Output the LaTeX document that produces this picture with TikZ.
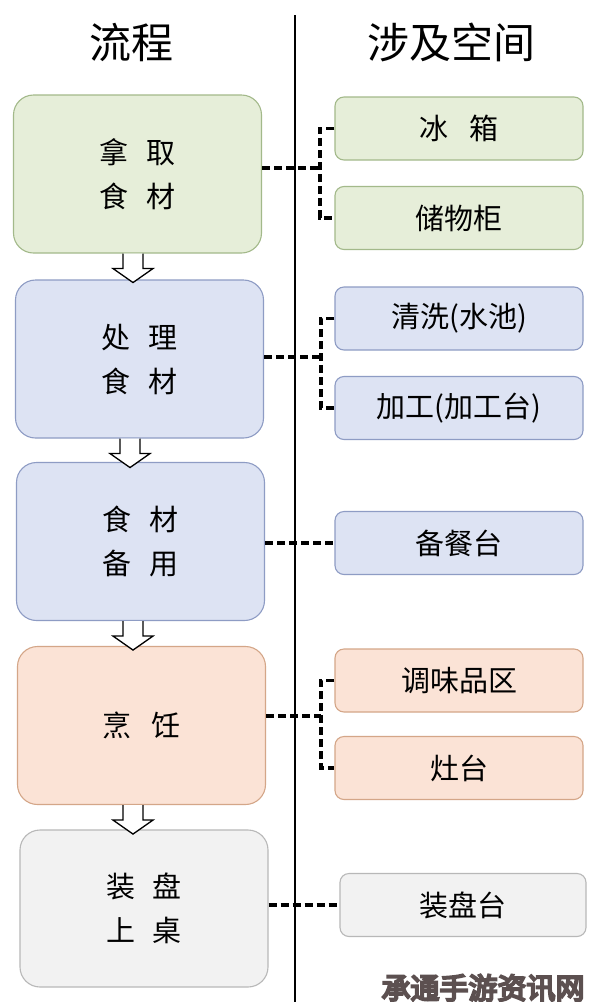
\documentclass[tikz,border=0pt]{standalone}
\usepackage{fontspec}
\setmainfont{Noto Sans CJK SC}
\newfontfamily\wmfont[FakeBold=7]{Noto Sans CJK SC}
\begin{document}
\begin{tikzpicture}[x=1pt,y=-1pt,
  lbox/.style={draw, line width=1.1pt, rounded corners=20pt, minimum width=248pt, minimum height=158pt, align=center, inner sep=0pt, font=\fontsize{29}{44}\selectfont},
  rbox/.style={draw, line width=1.1pt, rounded corners=9pt, minimum width=248pt, minimum height=63pt, inner sep=0pt, font=\fontsize{29}{34}\selectfont},
  conn/.style={line width=3.4pt, dash pattern=on 8pt off 4pt},
  downarr/.pic={\draw[line width=1.3pt, fill=white, line join=miter] (-10,0) -- (-10,15) -- (-20,15) -- (0,29) -- (20,15) -- (10,15) -- (10,0);},
  hdr/.style={font=\fontsize{42}{48}\selectfont}
]
\useasboundingbox (0,0) rectangle (591,1002);
\fill[white] (0,0) rectangle (591,1002);
\definecolor{gF}{HTML}{E6EED9}\definecolor{gD}{HTML}{A3B98A}
\definecolor{bF}{HTML}{DDE3F3}\definecolor{bD}{HTML}{8E9CC4}
\definecolor{oF}{HTML}{FBE3D6}\definecolor{oD}{HTML}{D4A688}
\definecolor{sF}{HTML}{F2F2F2}\definecolor{sD}{HTML}{B8B8B8}
\definecolor{wm}{HTML}{5C5050}

\node[hdr] (h1) at (131,42) {流程};
\node[hdr] (h2) at (451,42) {涉及空间};
\coordinate (vt) at (295,15);
\coordinate (vb) at (295,1002);
\draw[line width=1.2pt] (vt) -- (vb);

\node[lbox, fill=gF, draw=gD] (b1) at (137.5,174) {拿\hspace{0.6em}取\\食\hspace{0.6em}材};
\node[lbox, fill=bF, draw=bD] (b2) at (139.5,359) {处\hspace{0.6em}理\\食\hspace{0.6em}材};
\node[lbox, fill=bF, draw=bD] (b3) at (140.5,541.5) {食\hspace{0.6em}材\\备\hspace{0.6em}用};
\node[lbox, fill=oF, draw=oD] (b4) at (141.5,725.5) {烹\hspace{0.7em}饪};
\node[lbox, fill=sF, draw=sD, minimum height=157pt] (b5) at (144,908.5) {装\hspace{0.6em}盘\\上\hspace{0.6em}桌};

\node[rbox, fill=gF, draw=gD] (r1) at (459,128.5) {冰\hspace{0.75em}箱};
\node[rbox, fill=gF, draw=gD] (r2) at (459,218) {储物柜};
\node[rbox, fill=bF, draw=bD] (r3) at (459,318.5) {清洗(水池)};
\node[rbox, fill=bF, draw=bD] (r4) at (459,408) {加工(加工台)};
\node[rbox, fill=bF, draw=bD] (r5) at (459,543) {备餐台};
\node[rbox, fill=oF, draw=oD] (r6) at (459,680.5) {调味品区};
\node[rbox, fill=oF, draw=oD] (r7) at (459,768) {灶台};
\node[rbox, fill=sF, draw=sD, minimum width=246pt] (r8) at (463,905) {装盘台};

\path (b1.south) ++(-4.5,0) pic {downarr};
\path (b2.south) ++(-9.5,0) pic {downarr};
\path (b3.south) ++(-7.5,0) pic {downarr};
\path (b4.south) ++(-8.5,0) pic {downarr};

\coordinate (j1) at (320,168);
\coordinate (j2) at (321,357);
\coordinate (j4) at (321,716);
\draw[conn] (b1.east |- j1) -- (j1);
\draw[conn] (r1.west) -- (j1 |- r1.west) -- (j1 |- r2.west) -- (r2.west);
\draw[conn] (b2.east |- j2) -- (j2);
\draw[conn] (r3.west) -- (j2 |- r3.west) -- (j2 |- r4.west) -- (r4.west);
\draw[conn] (b3.east |- r5.west) -- (r5.west);
\draw[conn] (b4.east |- j4) -- (j4);
\draw[conn] (r6.west) -- (j4 |- r6.west) -- (j4 |- r7.west) -- (r7.west);
\draw[conn] (b5.east |- r8.west) -- (r8.west);

\node[font=\wmfont\fontsize{29}{32}\selectfont, text=wm] (wm) at (483,988) {承通手游资讯网};
\end{tikzpicture}
\end{document}
